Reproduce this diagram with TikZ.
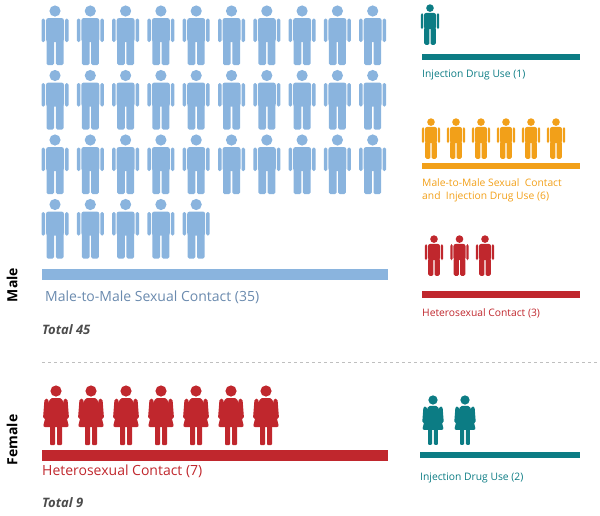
\documentclass[tikz,border=0pt]{standalone}
\usepackage{fontspec}
\setmainfont{Open Sans}
\definecolor{mblue}{HTML}{8AB4DE}
\definecolor{mteal}{HTML}{0C7C84}
\definecolor{morange}{HTML}{F2A019}
\definecolor{mred}{HTML}{C0272D}
\definecolor{mgrey}{HTML}{6A8AAE}
\tikzset{
  man/.pic={
    \fill (0,6) circle (5.6);
    \fill[rounded corners=2.5] (-9,13) rectangle (9,37);
    \fill[rounded corners=1.5] (-13.5,13.5) rectangle (-10,37);
    \fill[rounded corners=1.5] (10,13.5) rectangle (13.5,37);
    \fill[rounded corners=1.5] (-8.5,34) rectangle (-0.8,60);
    \fill[rounded corners=1.5] (0.8,34) rectangle (8.5,60);
  },
  woman/.pic={
    \fill (0,6) circle (5.6);
    \fill[rounded corners=2] (-6,13) -- (6,13) -- (13,42) -- (-13,42) -- cycle;
    \fill[rounded corners=1.5] (-11.5,14) -- (-8,13.5) -- (-6.5,21) -- (-10,34) -- (-13,33.5) -- cycle;
    \fill[rounded corners=1.5] (11.5,14) -- (8,13.5) -- (6.5,21) -- (10,34) -- (13,33.5) -- cycle;
    \fill[rounded corners=1] (-6,40) rectangle (-1,60);
    \fill[rounded corners=1] (1,40) rectangle (6,60);
  },
  lbl/.style={anchor=west,inner sep=0pt,font=\fontsize{14}{16}\selectfont},
  slbl/.style={anchor=west,inner sep=0pt,font=\fontsize{10.3}{13}\selectfont},
  tot/.style={anchor=west,inner sep=0pt,font=\fontsize{13}{15}\selectfont\bfseries\itshape,text=black!70},
  sex/.style={rotate=90,inner sep=0pt,font=\fontsize{14}{16}\selectfont\bfseries}
}
\begin{document}
\begin{tikzpicture}[x=1pt,y=-1pt]
\useasboundingbox (0,0) rectangle (600,515);

% male, male-to-male
\foreach \r in {0,1,2}
  \foreach \c in {0,...,9}
    \pic[mblue] at ({55+35.3*\c},{5+64.5*\r}) {man};
\foreach \c in {0,...,4}
  \pic[mblue] at ({55+35.3*\c},198.5) {man};
\fill[mblue] (42,269) rectangle (388,280);
\node[lbl,text=mgrey] (mm) at (45,297) {Male-to-Male Sexual Contact (35)};
\node[tot] (t45) at (42,330) {Total 45};

% male, right column
\pic[mteal,scale=0.68] at (430,4) {man};
\fill[mteal] (422,54) rectangle (580,60);
\node[slbl,text=mteal] (idu) at (422,75) {Injection Drug Use (1)};

\foreach \c in {0,...,5}
  \pic[morange,scale=0.68] at ({431+25*\c},118) {man};
\fill[morange] (422,163) rectangle (580,169);
\node[slbl,text=morange,align=left,anchor=north west] (mmidu) at (422,178)
  {Male-to-Male Sexual \ Contact\\and \ Injection Drug Use (6)};

\foreach \c in {0,...,2}
  \pic[mred,scale=0.68] at ({434+25.5*\c},235) {man};
\fill[mred] (422,291) rectangle (580,298);
\node[slbl,text=mred] (het) at (422,313) {Heterosexual Contact (3)};

\node[sex] (male) at (12,285) {Male};

\draw[black!25,dashed] (42,362) -- (600,362);

% female
\foreach \c in {0,...,6}
  \pic[mred] at ({56+35*\c},385) {woman};
\fill[mred] (42,450) rectangle (388,461);
\node[lbl,text=mred] (fhet) at (42,471) {Heterosexual Contact (7)};
\node[tot] (t9) at (42,503) {Total 9};

\foreach \c in {0,1}
  \pic[mteal,scale=0.83] at ({433+32*\c},395) {woman};
\fill[mteal] (420,452) rectangle (580,458);
\node[slbl,text=mteal] (fidu) at (420,478) {Injection Drug Use (2)};

\node[sex] (female) at (12,440) {Female};
\end{tikzpicture}
\end{document}
